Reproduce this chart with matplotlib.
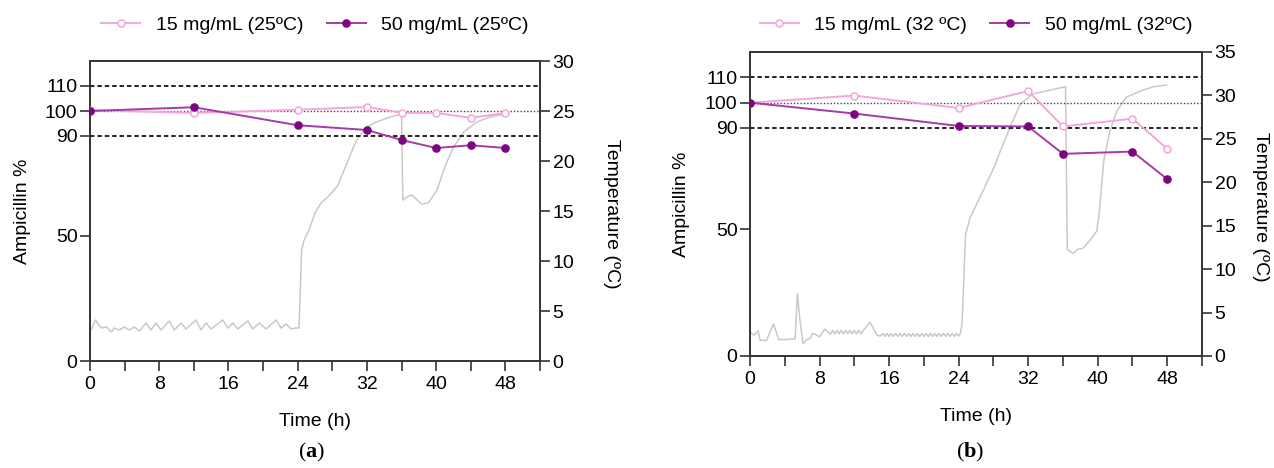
import numpy as np
import matplotlib.pyplot as plt

plt.rcParams['font.family'] = ['Liberation Sans', 'DejaVu Sans']
plt.rcParams['mathtext.fontset'] = 'custom'
plt.rcParams['mathtext.rm'] = 'Liberation Serif'
plt.rcParams['mathtext.bf'] = 'Liberation Serif:bold'

# ampicillin content (% of initial)
time_a = [0, 12, 24, 32, 36, 40, 44, 48]
amp15_a = [100.4, 99.2, 100.5, 101.6, 99.3, 99.2, 97.3, 99.2]
amp50_a = [100.0, 101.5, 94.3, 92.4, 88.4, 85.2, 86.3, 85.2]

time_b = [0, 12, 24, 32, 36, 44, 48]
amp15_b = [100.0, 102.8, 97.9, 104.6, 90.6, 93.7, 81.8]
amp50_b = [100.0, 95.7, 90.8, 90.6, 79.8, 80.7, 69.8]

# temperature log, panel (a)
temp_a_t = [0.0, 0.23, 0.62, 1.31, 1.89, 2.47, 2.81, 3.39, 3.97, 4.55, 5.12, 5.70,
            6.47, 7.05, 7.63, 8.21, 9.17, 9.75, 10.52, 11.1, 12.25, 12.83, 13.41,
            13.99, 15.34, 15.92, 16.49, 17.07, 18.23, 18.8, 19.57, 20.35, 21.5,
            22.08, 22.66, 23.24, 23.74, 24.15, 24.45, 24.7, 25.3, 26.0, 26.7, 27.7,
            28.6, 29.7, 30.8, 32.0, 33.1, 34.7, 36.0, 36.15, 36.6, 37.2, 37.8, 38.3,
            39.1, 40.1, 41.0, 42.0, 43.2, 44.7, 46.2, 48.0]
temp_a = [3.0, 3.3, 4.1, 3.3, 3.4, 2.9, 3.3, 3.1, 3.4, 3.1, 3.4, 3.0,
          3.8, 3.1, 3.8, 3.1, 4.0, 3.1, 3.8, 3.2, 4.1, 3.1, 3.8,
          3.2, 4.1, 3.3, 3.8, 3.2, 4.0, 3.2, 3.8, 3.2, 4.1,
          3.3, 3.7, 3.2, 3.3, 3.3, 11.0, 12.0, 13.1, 14.8, 15.8, 16.6,
          17.5, 19.8, 22.1, 23.4, 23.9, 24.4, 24.7, 16.1, 16.4, 16.6, 16.1, 15.7,
          15.8, 17.1, 19.4, 21.4, 22.9, 23.9, 24.4, 24.7]

# temperature log, panel (b)
temp_b_t = [0.0, 0.4, 0.8, 0.95, 1.15, 1.9, 2.7, 3.3, 4.2, 5.2, 5.45, 5.75, 6.1, 6.5,
            6.9, 7.2, 7.5, 8.0, 8.6, 9.0,
            9.25, 9.5, 9.75, 10.0, 10.25, 10.5, 10.75, 11.0, 11.25, 11.5, 11.75,
            12.0, 12.25, 12.5, 12.75, 13.0,
            13.8, 14.6, 15.0,
            15.25, 15.5, 15.75, 16.0, 16.25, 16.5, 16.75, 17.0, 17.25, 17.5, 17.75,
            18.0, 18.25, 18.5, 18.75, 19.0, 19.25, 19.5, 19.75, 20.0, 20.25, 20.5,
            20.75, 21.0, 21.25, 21.5, 21.75, 22.0, 22.25, 22.5, 22.75, 23.0, 23.25,
            23.5, 23.75, 24.0,
            24.2, 24.4, 24.8, 25.35, 26.8, 28.2, 28.8, 29.9, 31.1, 32.6, 34.5, 36.3,
            36.5, 37.2, 37.7, 38.3, 39.1, 39.9, 40.2, 40.7, 41.4, 42.2, 43.3, 44.9,
            46.4, 47.9]
temp_b = [2.75, 2.4, 2.75, 2.9, 1.8, 1.8, 3.7, 1.9, 1.9, 2.0, 7.2, 4.1, 1.4, 1.9,
          2.0, 2.6, 2.5, 2.2, 3.1, 2.75,
          2.5, 2.95, 2.55, 2.95, 2.55, 2.95, 2.55, 2.95, 2.55, 2.95, 2.55,
          2.95, 2.55, 2.95, 2.55, 2.9,
          3.9, 2.4, 2.3,
          2.6, 2.25, 2.6, 2.25, 2.6, 2.25, 2.6, 2.25, 2.6, 2.25, 2.6,
          2.25, 2.6, 2.25, 2.6, 2.25, 2.6, 2.25, 2.6, 2.25, 2.6, 2.25,
          2.6, 2.25, 2.6, 2.25, 2.6, 2.25, 2.6, 2.25, 2.6, 2.25, 2.6,
          2.25, 2.6, 2.3,
          2.6, 3.8, 14.0, 16.0, 19.0, 22.0, 23.6, 26.3, 29.0, 30.2, 30.6, 31.0,
          12.3, 11.8, 12.3, 12.4, 13.3, 14.4, 16.7, 22.5, 25.9, 28.2, 29.8, 30.5,
          31.0, 31.2]

labels_a = ['15 mg/mL (25ºC)', '50 mg/mL (25ºC)']
labels_b = ['15 mg/mL (32 ºC)', '50 mg/mL (32ºC)']

pink = '#f5a6d8'
purple_line = '#a63aa8'
purple_mk = '#7d0580'
grey = '#c9c9c9'
spine = '#333333'
fs = 14

W, H = 1274, 468
fig = plt.figure(figsize=(W / 100, H / 100), dpi=100)


def panel(rect, t, a15, a50, tt, temp, tmax, labels, tag, tag_x, rlab_x):
    ax = fig.add_axes(rect)
    ax2 = ax.twinx()
    ax.set_zorder(ax2.get_zorder() + 1)
    ax.patch.set_visible(False)

    ax2.plot(tt, temp, color=grey, lw=1.1)
    ax2.set_ylim(0, tmax)
    ax2.set_yticks(np.arange(0, tmax + 1, 5))

    for y in (110, 90):
        ax.axhline(y, color='#222222', lw=1.4, ls=(0, (2.3, 1.5)), zorder=1)
    ax.axhline(100, color='#444444', lw=1.0, ls=(0, (1, 1.4)), zorder=1)

    ax.plot(t, a15, color=pink, lw=1.4, marker='o', ms=5, mfc='white',
            mec=pink, mew=1.1, label=labels[0], zorder=3)
    ax.plot(t, a50, color=purple_line, lw=1.4, marker='o', ms=5.2, mfc=purple_mk,
            mec=purple_mk, label=labels[1], zorder=4)

    ax.set_xlim(0, 52)
    ax.set_ylim(0, 120)
    ax.set_xticks(np.arange(0, 53, 4))
    ax.set_xticklabels([str(v) if v % 8 == 0 and v <= 48 else '' for v in range(0, 53, 4)])
    ax.set_yticks([0, 50, 90, 100, 110])

    for a in (ax, ax2):
        for s in a.spines.values():
            s.set_color(spine)
            s.set_linewidth(1.2)
        a.tick_params(direction='out', length=7, width=1.2, color=spine,
                      labelsize=fs, pad=2)
    ax.tick_params(axis='x', pad=4)

    ax.set_xlabel('Time (h)', fontsize=fs, va='center')
    ax.xaxis.set_label_coords(0.5, -0.2)
    ax.set_ylabel('Ampicillin %', fontsize=fs, va='center')
    ax.yaxis.set_label_coords(-0.151, 0.5)
    ax2.set_ylabel('Temperature (ºC)', fontsize=fs, rotation=270, va='center')
    ax2.yaxis.set_label_coords(rlab_x, 0.49)

    ax.legend(loc='center', bbox_to_anchor=(rect[0] + rect[2] / 2, 1 - 25 / H),
              bbox_transform=fig.transFigure, ncol=2, frameon=False,
              fontsize=fs, handlelength=2.0, handletextpad=0.8, columnspacing=1.2)

    fig.text(tag_x, 1 - 452 / H, r'(${\bf %s}$)' % tag, fontsize=16,
             family='Liberation Serif', ha='center', va='center')


panel([90 / W, 1 - 361 / H, 450 / W, 300 / H], time_a, amp15_a, amp50_a,
      temp_a_t, temp_a, 30, labels_a, 'a', 312 / W, 1.158)
panel([750 / W, 1 - 356 / H, 452 / W, 304 / H], time_b, amp15_b, amp50_b,
      temp_b_t, temp_b, 35, labels_b, 'b', 970 / W, 1.13)

fig.savefig('out.png', dpi=100)
